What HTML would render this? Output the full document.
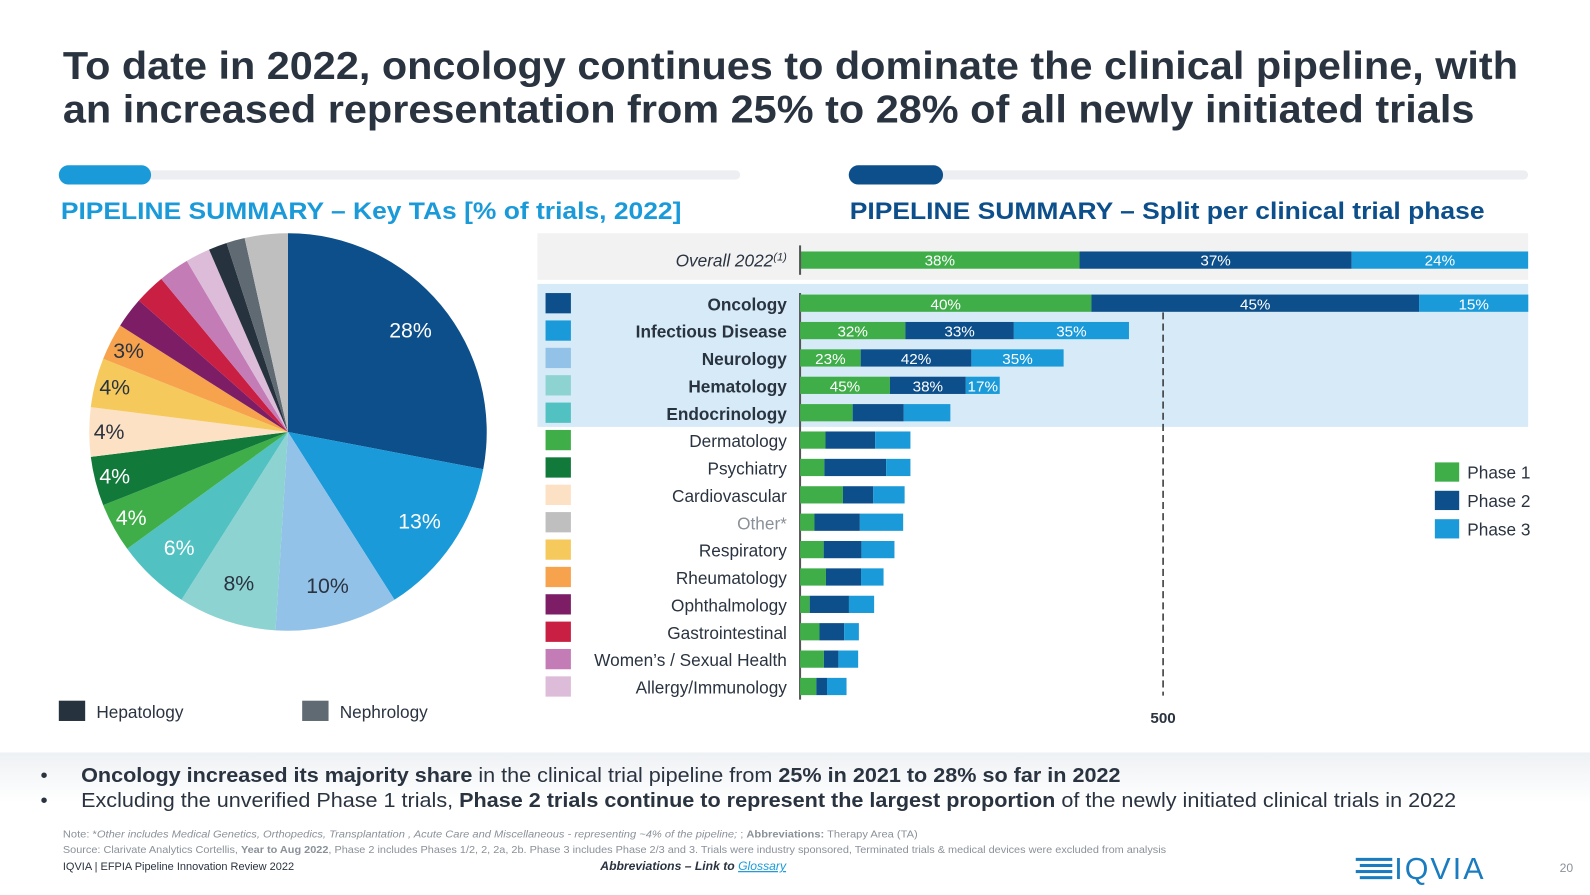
<!DOCTYPE html>
<html><head><meta charset="utf-8"><style>
body{margin:0;background:#fff;}
svg{display:block;font-family:"Liberation Sans",Arial,sans-serif;}
</style></head><body>
<svg id="s" width="1590" height="895" viewBox="0 0 1590 895">
<defs><linearGradient id="bg" x1="0" y1="0" x2="0" y2="1"><stop offset="0" stop-color="#eef1f4"/><stop offset="1" stop-color="#fff"/></linearGradient></defs>
<g transform="scale(1.01403)">
<g fill="#2a3340" font-weight="bold" font-size="38">
<text x="62" y="78" textLength="1435" lengthAdjust="spacingAndGlyphs">To date in 2022, oncology continues to dominate the clinical pipeline, with</text>
<text x="62" y="121" textLength="1392" lengthAdjust="spacingAndGlyphs">an increased representation from 25% to 28% of all newly initiated trials</text>
</g>
<rect x="58" y="168" width="672" height="9" rx="4.5" fill="#eceef1"/>
<rect x="58" y="163" width="91" height="19" rx="9.5" fill="#1a9ad9"/>
<rect x="837" y="168" width="670" height="9" rx="4.5" fill="#eceef1"/>
<rect x="837" y="163" width="93" height="19" rx="9.5" fill="#0d4f8b"/>
<text x="60" y="216" font-size="24" font-weight="bold" fill="#1a9ad9" textLength="612" lengthAdjust="spacingAndGlyphs">PIPELINE SUMMARY – Key TAs [% of trials, 2022]</text>
<text x="838" y="216" font-size="24" font-weight="bold" fill="#0d4f8b" textLength="626" lengthAdjust="spacingAndGlyphs">PIPELINE SUMMARY – Split per clinical trial phase</text>
<g id="pie"></g>
<rect x="58" y="691" width="26" height="20" fill="#26323d"/>
<text x="95" y="708" font-size="17" fill="#2a3340">Hepatology</text>
<rect x="298" y="691" width="26" height="20" fill="#5f6a73"/>
<text x="335" y="708" font-size="17" fill="#2a3340">Nephrology</text>
<rect x="530" y="230" width="977" height="46" fill="#f2f2f2"/>
<rect x="530" y="280" width="977" height="141" fill="#d6ebf7"/>
<g id="bars"></g>
<g font-size="17" fill="#2a3340">
<rect x="1415" y="456" width="24" height="19" fill="#3fae49"/><text x="1447" y="472">Phase 1</text>
<rect x="1415" y="484" width="24" height="19" fill="#0d4f8b"/><text x="1447" y="500">Phase 2</text>
<rect x="1415" y="512" width="24" height="19" fill="#1a9ad9"/><text x="1447" y="528">Phase 3</text>
</g>
<rect x="0" y="742" width="1590" height="50" fill="url(#bg)"/>
<g font-size="20" fill="#2a3340">
<text x="40" y="771">•</text>
<text x="80" y="771" textLength="1025" lengthAdjust="spacingAndGlyphs"><tspan font-weight="bold">Oncology increased its majority share</tspan> in the clinical trial pipeline from <tspan font-weight="bold">25% in 2021 to 28% so far in 2022</tspan></text>
<text x="40" y="796">•</text>
<text x="80" y="796" textLength="1356" lengthAdjust="spacingAndGlyphs">Excluding the unverified Phase 1 trials, <tspan font-weight="bold">Phase 2 trials continue to represent the largest proportion</tspan> of the newly initiated clinical trials in 2022</text>
</g>
<g font-size="10" fill="#8a9198">
<text x="62" y="826" textLength="843" lengthAdjust="spacingAndGlyphs">Note: *<tspan font-style="italic">Other includes Medical Genetics, Orthopedics, Transplantation , Acute Care and Miscellaneous - representing ~4% of the pipeline;</tspan> ; <tspan font-weight="bold">Abbreviations:</tspan> Therapy Area (TA)</text>
<text x="62" y="841" textLength="1088" lengthAdjust="spacingAndGlyphs">Source: Clarivate Analytics Cortellis, <tspan font-weight="bold">Year to Aug 2022</tspan>, Phase 2 includes Phases 1/2, 2, 2a, 2b. Phase 3 includes Phase 2/3 and 3. Trials were industry sponsored, Terminated trials &amp; medical devices were excluded from analysis</text>
<text x="62" y="858" fill="#2a3340" font-size="11" textLength="228" lengthAdjust="spacingAndGlyphs">IQVIA | EFPIA Pipeline Innovation Review 2022</text>
<text x="592" y="858" fill="#2a3340" font-size="12" font-style="italic" font-weight="bold">Abbreviations – Link to <tspan fill="#1a9ad9" font-weight="normal" text-decoration="underline">Glossary</tspan></text>
</g>
<g>
<g fill="#1a7cc0"><rect x="1337" y="846" width="36" height="3"/><rect x="1341" y="852" width="32" height="3"/><rect x="1337" y="858" width="36" height="3"/><rect x="1341" y="864" width="32" height="3"/></g>
<text x="1375" y="867" font-size="30" fill="#1a7cc0" letter-spacing="2">IQVIA</text>
</g>
<text x="1538" y="860" font-size="12" fill="#8a9198">20</text>
</g>
</svg>
<script>
const NS='http://www.w3.org/2000/svg';
// Pie data
const pieNames=['Oncology','Infectious Disease','Neurology','Hematology','Endocrinology','Dermatology','Psychiatry','Cardiovascular','Respiratory','Rheumatology','Ophthalmology','Gastrointestinal','Womens Health','Allergy','Hepatology','Nephrology','Other'];
const pieValues=[28,13,10,8,6,4,4,4,4,3,2.5,2.5,2.5,2,1.5,1.5,3.5];
const pieLabels=['28%','13%','10%','8%','6%','4%','4%','4%','4%','3%','','','','','','',''];
const pieColors=['#0d4f8b','#1a9ad9','#93c2e8','#8dd3d1','#52c1c1','#3fae49','#117a3a','#fde1c4','#f5c95c','#f7a24d','#7c1d66','#c91f42','#c47cb7','#ddbcd9','#26323d','#5f6a73','#bfbfbf'];
const pieTextColors=['#fff','#fff','#2a3340','#2a3340','#fff','#fff','#fff','#2a3340','#2a3340','#2a3340'];
const cx=284,cy=426,R=196;
const pie=document.getElementById('pie');
const tot=pieValues.reduce((a,b)=>a+b,0);
let acc=0;
pieValues.forEach((v,i)=>{
  const a0=acc/tot*2*Math.PI, a1=(acc+v)/tot*2*Math.PI; acc+=v;
  const p=(a)=>[cx+R*Math.sin(a),cy-R*Math.cos(a)];
  const [x0,y0]=p(a0),[x1,y1]=p(a1);
  const path=document.createElementNS(NS,'path');
  path.setAttribute('d',`M${cx},${cy}L${x0},${y0}A${R},${R} 0 ${a1-a0>Math.PI?1:0} 1 ${x1},${y1}Z`);
  path.setAttribute('fill',pieColors[i]);
  
  
  pie.appendChild(path);
  if(pieLabels[i]){
    const am=(a0+a1)/2, rr=R*(i<5?0.8:0.9);
    const t=document.createElementNS(NS,'text');
    t.setAttribute('x',cx+rr*Math.sin(am)); t.setAttribute('y',cy-rr*Math.cos(am)+7);
    t.setAttribute('text-anchor','middle'); t.setAttribute('font-size','21');
    t.setAttribute('fill',pieTextColors[i]); t.textContent=pieLabels[i];
    
    
    pie.appendChild(t);
  }
});
// Bar data
const overallShares=[38,37,24];
const overallLabels=['38%','37%','24%'];
const barCategories=['Oncology','Infectious Disease','Neurology','Hematology','Endocrinology','Dermatology','Psychiatry','Cardiovascular','Other*','Respiratory','Rheumatology','Ophthalmology','Gastrointestinal','Women’s / Sexual Health','Allergy/Immunology'];
const barTotals=[1003,453,363,275,207,152,152,144,142,130,115,102,81,80,64];
const phase1Share=[40,32,23,45,35,23,22,41,14,25,31,13,33,41,35];
const phase2Share=[45,33,42,38,34,45,56,29,44,40,42,53,42,25,23];
const phase3Share=[15,35,35,17,31,32,22,30,42,35,27,34,25,34,42];
const shareLabelRows=4;
const tickValue=500;
const catColors=['#0d4f8b','#1a9ad9','#93c2e8','#8dd3d1','#52c1c1','#3fae49','#117a3a','#fde1c4','#bfbfbf','#f5c95c','#f7a24d','#7c1d66','#c91f42','#c47cb7','#ddbcd9'];
const phaseColors=['#3fae49','#0d4f8b','#1a9ad9'];
const X0=789, pxPerUnit=358/500, fullW=718;
const xs=v=>X0+v*pxPerUnit;
const rowY=i=>299+i*27;
const bars=document.getElementById('bars');
function mk(tag,attrs,name){const e=document.createElementNS(NS,tag);for(const k in attrs)e.setAttribute(k,attrs[k]);
bars.appendChild(e);return e;}
let ot=overallShares.reduce((a,b)=>a+b,0),ox=X0;
overallShares.forEach((s,j)=>{const w=s/ot*fullW;
  mk('rect',{x:ox,y:248,width:w,height:17,fill:phaseColors[j]},'overall-phase-'+(j+1));
  const t=mk('text',{x:ox+w/2,y:262,'text-anchor':'middle','font-size':15,fill:'#fff'},'overall-label');t.textContent=overallLabels[j];ox+=w;});
const ol=mk('text',{x:776,y:263,'text-anchor':'end','font-size':17,'font-style':'italic',fill:'#2a3340'},'overall-category');
ol.innerHTML='Overall 2022<tspan font-size="11" dy="-6">(1)</tspan>';
mk('line',{x1:X0,y1:242,x2:X0,y2:271,stroke:'#555','stroke-width':2},'overall-axis');
mk('line',{x1:X0,y1:289,x2:X0,y2:690,stroke:'#555','stroke-width':2},'y-axis');
mk('line',{x1:xs(tickValue),y1:308,x2:xs(tickValue),y2:686,stroke:'#333','stroke-width':1.5,'stroke-dasharray':'7,4'},'reference-line-500');
const tl=mk('text',{x:xs(tickValue),y:713,'text-anchor':'middle','font-size':15,'font-weight':'bold',fill:'#2a3340'},'x-tick-500');tl.textContent=tickValue;
barCategories.forEach((c,i)=>{
  const y=rowY(i);
  mk('rect',{x:538,y:y-10,width:25,height:20,fill:catColors[i]},'swatch-'+i);
  const t=mk('text',{x:776,y:y+7,'text-anchor':'end','font-size':17,'font-weight':i<5?'bold':'normal',fill:i==8?'#8a9198':'#2a3340'},'category-label');t.textContent=c;
  const sh=[phase1Share[i],phase2Share[i],phase3Share[i]];const st=sh[0]+sh[1]+sh[2];
  let x=X0;
  sh.forEach((s,j)=>{const w=xs(barTotals[i]*s/st)-X0;
    mk('rect',{x:x,y:y-8.5,width:w,height:17,fill:phaseColors[j]},'bar-'+i+'-phase-'+(j+1));
    if(i<shareLabelRows){const lt=mk('text',{x:x+w/2,y:y+6,'text-anchor':'middle','font-size':15,fill:'#fff'},'bar-value-label');lt.textContent=s+'%';}
    x+=w;});
});
</script>
</body></html>
